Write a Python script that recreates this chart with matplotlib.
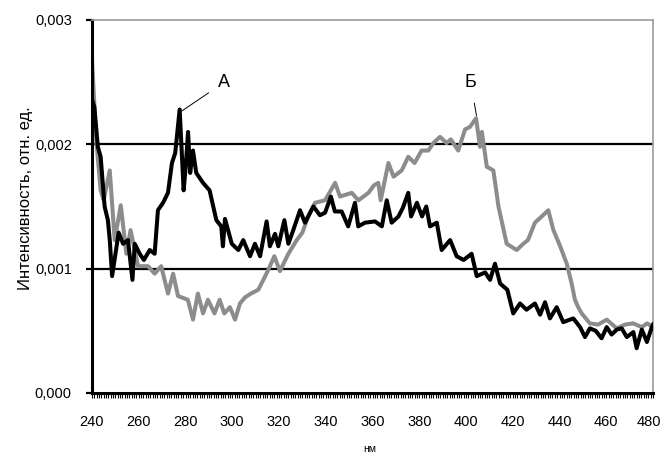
import matplotlib
matplotlib.use("Agg")
import matplotlib.pyplot as plt
from matplotlib.ticker import MultipleLocator, FuncFormatter
from matplotlib.transforms import ScaledTranslation

# Series A (black), values in 10^-3 units
a_nm = [240, 241, 242.5, 243.7, 245.4, 246.8, 247.6, 248.6, 251.4, 253.3, 255.4, 257.3,
        258.3, 260.4, 262.2, 264.7, 266.8, 268.2, 270.4, 272.5, 274.2, 275.6, 277.5,
        279.2, 280.0, 281.1, 282.0, 283.2, 284.6, 287.5, 290.3, 293.2, 295.3, 296.0,
        296.9, 299.8, 302.6, 304.7, 307.6, 309.7, 311.9, 314.7, 316.1, 318.3, 319.7,
        322.3, 324.0, 326.1, 329.0, 331.1, 334.7, 337.5, 339.7, 342.2, 343.9, 346.8,
        349.6, 352.5, 353.9, 356.8, 361.1, 364.0, 366.1, 368.2, 371.1, 373.0, 375.3,
        376.5, 379.0, 381.2, 383.0, 384.6, 387.5, 389.6, 393.2, 396.0, 399.0, 402.4,
        404.6, 408.2, 410.3, 412.4, 414.6, 417.7, 420.2, 423.1, 425.9, 429.5, 431.7,
        433.8, 435.9, 438.8, 441.6, 445.9, 448.8, 450.9, 453.0, 455.5, 458.0, 460.2,
        462.3, 464.5, 466.6, 468.8, 471.6, 473.0, 475.2, 477.4, 479.5, 480.0]
a_val = [2.36, 2.30, 1.98, 1.90, 1.50, 1.39, 1.23, 0.94, 1.29, 1.20, 1.23, 0.91,
         1.20, 1.12, 1.07, 1.15, 1.12, 1.47, 1.53, 1.61, 1.85, 1.93, 2.28,
         1.63, 1.80, 2.10, 1.77, 1.95, 1.77, 1.69, 1.63, 1.39, 1.34, 1.18,
         1.40, 1.20, 1.15, 1.23, 1.10, 1.20, 1.10, 1.38, 1.18, 1.28, 1.18,
         1.39, 1.20, 1.31, 1.47, 1.37, 1.50, 1.43, 1.45, 1.58, 1.46, 1.46,
         1.34, 1.53, 1.34, 1.37, 1.38, 1.34, 1.55, 1.37, 1.42, 1.49, 1.61,
         1.42, 1.53, 1.42, 1.50, 1.34, 1.37, 1.15, 1.23, 1.10, 1.07, 1.12,
         0.94, 0.97, 0.91, 1.04, 0.88, 0.83, 0.64, 0.72, 0.67, 0.72, 0.63,
         0.73, 0.60, 0.69, 0.57, 0.60, 0.53, 0.45, 0.52, 0.50, 0.44, 0.53,
         0.47, 0.51, 0.52, 0.45, 0.49, 0.36, 0.51, 0.41, 0.53, 0.55]

# Series Б (grey), values in 10^-3 units
b_nm = [240, 241.8, 243.7, 245.0, 247.6, 249.7, 252.3, 254.7, 256.5, 259.7, 264.0,
        266.8, 269.6, 272.5, 274.7, 276.8, 281.0, 283.2, 285.3, 287.5, 289.6, 292.4,
        294.6, 296.6, 299.0, 301.2, 303.3, 305.5, 308.0, 311.1, 313.3, 315.4, 318.0,
        320.4, 324.0, 327.6, 330.0, 332.5, 335.4, 339.7, 344.0, 346.1, 351.1, 354.0,
        358.3, 360.6, 362.5, 363.5, 366.8, 369.0, 372.5, 375.3, 378.0, 381.0, 383.9,
        386.0, 388.9, 391.7, 393.5, 396.7, 399.6, 401.7, 404.3, 406.0, 406.8, 408.9,
        411.7, 413.9, 417.4, 421.7, 424.5, 426.5, 429.5, 432.4, 435.2, 437.4, 440.3,
        443.1, 445.2, 446.6, 448.0, 449.5, 453.0, 456.5, 460.2, 464.5, 468.0, 471.5,
        475.2, 477.5, 480.0]
b_val = [2.68, 2.04, 1.63, 1.55, 1.79, 1.23, 1.51, 1.12, 1.31, 1.02, 1.02,
         0.96, 1.02, 0.80, 0.96, 0.78, 0.75, 0.59, 0.80, 0.64, 0.75, 0.64,
         0.75, 0.64, 0.69, 0.59, 0.72, 0.77, 0.80, 0.83, 0.91, 0.99, 1.10,
         0.98, 1.12, 1.23, 1.29, 1.42, 1.53, 1.55, 1.69, 1.58, 1.61, 1.55,
         1.61, 1.67, 1.69, 1.55, 1.85, 1.74, 1.79, 1.90, 1.85, 1.95, 1.95,
         2.01, 2.06, 2.01, 2.04, 1.95, 2.12, 2.14, 2.21, 1.98, 2.10, 1.82,
         1.79, 1.50, 1.20, 1.15, 1.20, 1.23, 1.37, 1.42, 1.47, 1.31, 1.18,
         1.04, 0.88, 0.75, 0.69, 0.64, 0.56, 0.55, 0.59, 0.52, 0.55, 0.56,
         0.53, 0.56, 0.53]

x_ticks = [240, 260, 280, 300, 320, 340, 360, 380, 400, 420, 440, 460, 480]
y_ticks = [0.0, 0.001, 0.002, 0.003]

plt.rcParams['font.family'] = ['Liberation Sans', 'DejaVu Sans']

fig = plt.figure(figsize=(6.64, 4.59), dpi=100)
ax = fig.add_axes([92/664, 1-393/459, (653-92)/664, (393-20)/459])

for y in y_ticks[1:3]:
    ax.axhline(y, color='black', lw=1.6, zorder=1)

ax.plot(b_nm, [v/1000 for v in b_val], color='#8c8c8c', lw=2.9, zorder=2,
        solid_joinstyle='round')
ax.plot(a_nm, [v/1000 for v in a_val], color='black', lw=2.9, zorder=3,
        solid_joinstyle='round')

ax.set_xlim(240, 480)
ax.set_ylim(0, 0.003)
ax.set_xticks(x_ticks)
ax.xaxis.set_minor_locator(MultipleLocator(1))
ax.set_yticks(y_ticks)
ax.yaxis.set_major_formatter(FuncFormatter(lambda v, p: f"{v:.3f}".replace('.', ',')))
ax.tick_params(axis='x', which='both', direction='out', length=3.5, width=0.8,
               labelsize=10.5, pad=12.5)
ax.tick_params(axis='y', which='major', direction='out', length=4.5, width=1.6,
               labelsize=10.5, pad=10)

# nudge the last x label so it stays inside the figure
last = ax.get_xticklabels()[-1]
last.set_transform(last.get_transform() + ScaledTranslation(-4/100, 0, fig.dpi_scale_trans))

ax.spines['left'].set_linewidth(2.2)
ax.spines['bottom'].set_linewidth(2.2)
ax.spines['top'].set_color('#999999')
ax.spines['top'].set_linewidth(1.2)
ax.spines['right'].set_color('#999999')
ax.spines['right'].set_linewidth(1.2)

ax.set_ylabel('Интенсивность, отн. ед.', fontsize=12)
ax.yaxis.set_label_coords(-0.106, 0.523)
fig.text(370/664, 1-449/459, 'нм', fontsize=7.5, ha='center', va='center')

ax.annotate('А', xy=(277.8, 0.00226), xytext=(296.6, 0.00250), fontsize=13,
            ha='center', va='center',
            arrowprops=dict(arrowstyle='-', color='black', lw=0.7, shrinkA=6, shrinkB=1))
ax.annotate('Б', xy=(404.6, 0.00222), xytext=(402.0, 0.00250), fontsize=13,
            ha='center', va='center',
            arrowprops=dict(arrowstyle='-', color='black', lw=0.7, shrinkA=7, shrinkB=1))

fig.savefig('out.png', dpi=100)
